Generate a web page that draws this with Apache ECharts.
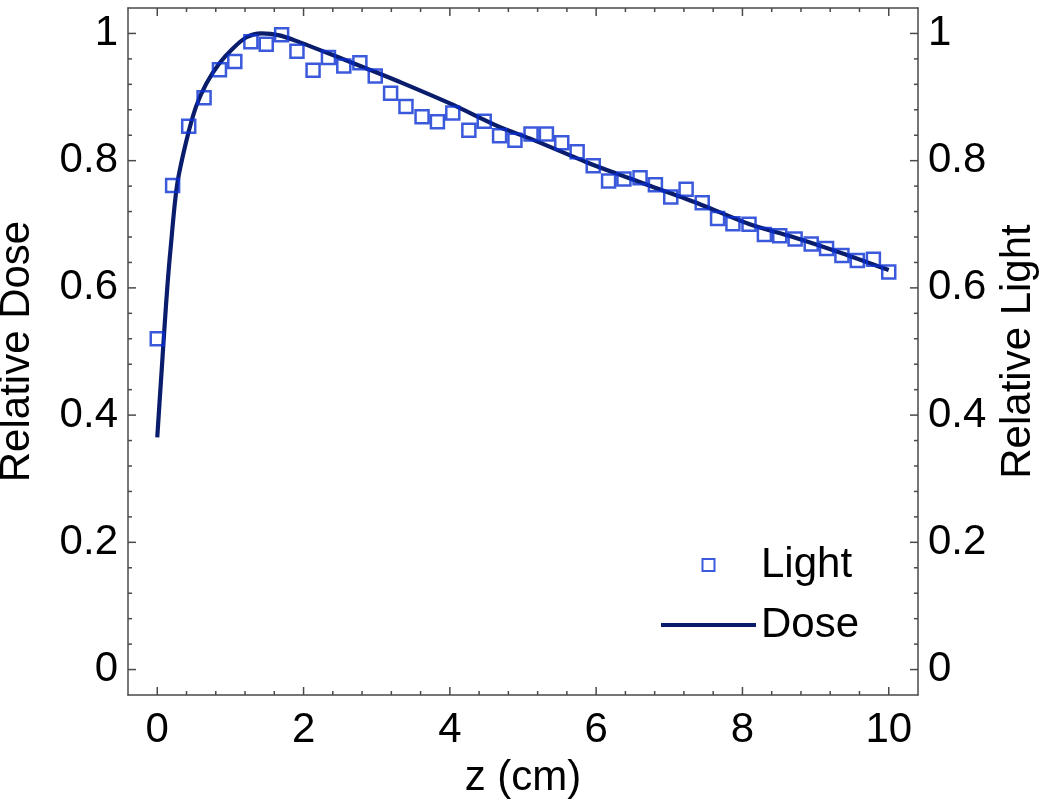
<!DOCTYPE html>
<html><head><meta charset="utf-8">
<script src="https://cdn.jsdelivr.net/npm/echarts@6/dist/echarts.min.js"></script>
<style>html,body{margin:0;padding:0;background:#fff}#c{width:1050px;height:808px}</style>
</head><body><div id="c"></div>
<script>
// ---- data ----
const lightZ = [0, 0.21, 0.43, 0.64, 0.85, 1.06, 1.28, 1.49, 1.70, 1.91, 2.13, 2.34, 2.55, 2.77, 2.98, 3.19,
  3.40, 3.62, 3.83, 4.04, 4.26, 4.47, 4.68, 4.89, 5.11, 5.32, 5.53, 5.74, 5.96, 6.17, 6.38, 6.60,
  6.81, 7.02, 7.23, 7.45, 7.66, 7.87, 8.09, 8.30, 8.51, 8.72, 8.94, 9.15, 9.36, 9.57, 9.79, 10.0];
const lightValues = [0.520, 0.761, 0.854, 0.899, 0.943, 0.956, 0.987, 0.983, 0.998, 0.972, 0.942, 0.962,
  0.949, 0.954, 0.933, 0.906, 0.885, 0.869, 0.861, 0.875, 0.848, 0.862, 0.839, 0.832, 0.842, 0.842,
  0.828, 0.814, 0.792, 0.768, 0.771, 0.773, 0.762, 0.743, 0.755, 0.734, 0.709, 0.701, 0.700, 0.684,
  0.682, 0.677, 0.669, 0.662, 0.651, 0.643, 0.645, 0.625];
const doseZ = [0, 0.03, 0.06, 0.10, 0.14, 0.18, 0.27, 0.40, 0.53, 0.67, 0.85, 1.03, 1.22, 1.42, 1.67,
  1.95, 2.40, 2.86, 3.31, 4.00, 4.68, 5.09, 5.86, 6.27, 6.77, 7.41, 8.10, 8.69, 9.35, 10.0];
const doseValues = [0.365, 0.418, 0.470, 0.540, 0.605, 0.659, 0.761, 0.832, 0.885, 0.921, 0.953, 0.976,
  0.994, 1.000, 0.997, 0.986, 0.966, 0.945, 0.924, 0.890, 0.853, 0.835, 0.798, 0.780, 0.759, 0.732,
  0.700, 0.680, 0.655, 0.628];
const xTickLabels = [0, 2, 4, 6, 8, 10];
const xMinorTicks = [0.4, 0.8, 1.2, 1.6, 2.4, 2.8, 3.2, 3.6, 4.4, 4.8, 5.2, 5.6, 6.4, 6.8, 7.2, 7.6,
  8.4, 8.8, 9.2, 9.6];
const yTickLabels = [0, 0.2, 0.4, 0.6, 0.8, 1];
const yMinorTicks = [0.04, 0.08, 0.12, 0.16, 0.24, 0.28, 0.32, 0.36, 0.44, 0.48, 0.52, 0.56, 0.64, 0.68,
  0.72, 0.76, 0.84, 0.88, 0.92, 0.96];
const seriesNames = ['Light', 'Dose'];
const axisTitles = { x: 'z (cm)', yLeft: 'Relative Dose', yRight: 'Relative Light' };

// ---- styling ----
const FONT = "'Liberation Sans', Arial, Helvetica, sans-serif";
const FS = 42;
const AXC = '#4a4a4a';
const lightColor = '#0a2fd2';
const doseColor = '#0a1d6c';
const X_RANGE = [-0.4, 10.4];
const Y_RANGE = [-0.04, 1.04];
const MAJOR = 8, MINOR = 4, TW = 1.5;

function axis(kind, position, opts) {
  const range = kind === 'x' ? X_RANGE : Y_RANGE;
  return Object.assign({
    type: 'value', position: position, min: range[0], max: range[1],
    axisLine: { show: true, onZero: false, lineStyle: { color: AXC, width: 1.5 } },
    axisTick: { show: false },
    axisLabel: { show: false },
    splitLine: { show: false }
  }, opts || {});
}
const labelStyle = (margin, vals) => ({
  show: true, customValues: vals, margin: margin, color: '#000',
  fontSize: FS, fontFamily: FONT
});
const nameStyle = { fontSize: FS, fontFamily: FONT, color: '#000' };

// tick specs: [x, y, dxPixels, dyPixels] — inward marks on all four sides
const tickSpecs = [];
function addX(vals, len) {
  vals.forEach(v => { tickSpecs.push([v, Y_RANGE[0], 0, -len]); tickSpecs.push([v, Y_RANGE[1], 0, len]); });
}
function addY(vals, len) {
  vals.forEach(v => { tickSpecs.push([X_RANGE[0], v, len, 0]); tickSpecs.push([X_RANGE[1], v, -len, 0]); });
}
addX(xTickLabels, MAJOR); addX(xMinorTicks, MINOR);
addY(yTickLabels, MAJOR); addY(yMinorTicks, MINOR);

const option = {
  animation: false,
  grid: { left: 128, right: 132, top: 8, bottom: 113, outerBoundsMode: 'none' },
  xAxis: [
    axis('x', 'bottom', {
      axisLabel: labelStyle(14, xTickLabels),
      name: axisTitles.x, nameLocation: 'middle', nameGap: 62, nameTextStyle: nameStyle
    }),
    axis('x', 'top')
  ],
  yAxis: [
    axis('y', 'left', {
      axisLabel: labelStyle(10, yTickLabels),
      name: axisTitles.yLeft, nameLocation: 'middle', nameGap: 90, nameRotate: 90,
      nameTextStyle: nameStyle
    }),
    axis('y', 'right', {
      axisLabel: labelStyle(10, yTickLabels),
      name: axisTitles.yRight, nameLocation: 'middle', nameGap: 74, nameRotate: 90,
      nameTextStyle: nameStyle
    })
  ],
  legend: {
    orient: 'vertical', left: 656, top: 539,
    itemWidth: 95, itemHeight: 12, itemGap: 18,
    symbolKeepAspect: true,
    data: [
      { name: seriesNames[0], icon: 'path://M0,0H10V10H0Z' },
      { name: seriesNames[1], icon: 'path://M0,0H100V4.4H0Z' }
    ],
    textStyle: { fontSize: FS, fontFamily: FONT, color: '#000' },
    selectedMode: false
  },
  series: [
    {
      name: seriesNames[1], type: 'line', xAxisIndex: 0, yAxisIndex: 0,
      data: doseZ.map((z, i) => [z, doseValues[i]]),
      showSymbol: false, symbol: 'none', smooth: 0.3,
      lineStyle: { color: doseColor, width: 4.2 },
      itemStyle: { color: doseColor },
      z: 2
    },
    {
      name: seriesNames[0], type: 'scatter', xAxisIndex: 0, yAxisIndex: 0,
      data: lightZ.map((z, i) => [z, lightValues[i]]),
      symbol: 'rect', symbolSize: 13,
      itemStyle: { color: 'rgba(255,255,255,0)', borderColor: lightColor, borderWidth: 2.5 },
      z: 3
    }
  ]
};
const chart = echarts.init(document.getElementById('c'));
chart.setOption(option);

// tick marks placed through the grid's own scale (convertToPixel), drawn on a top layer
const tickEls = tickSpecs.map(t => {
  const p = chart.convertToPixel({ gridIndex: 0 }, [t[0], t[1]]);
  return {
    type: 'line', silent: true, z: 100,
    shape: { x1: p[0], y1: p[1], x2: p[0] + t[2], y2: p[1] + t[3] },
    style: { stroke: AXC, lineWidth: TW }
  };
});
chart.setOption({ graphic: { elements: tickEls } });
</script>
</body></html>
